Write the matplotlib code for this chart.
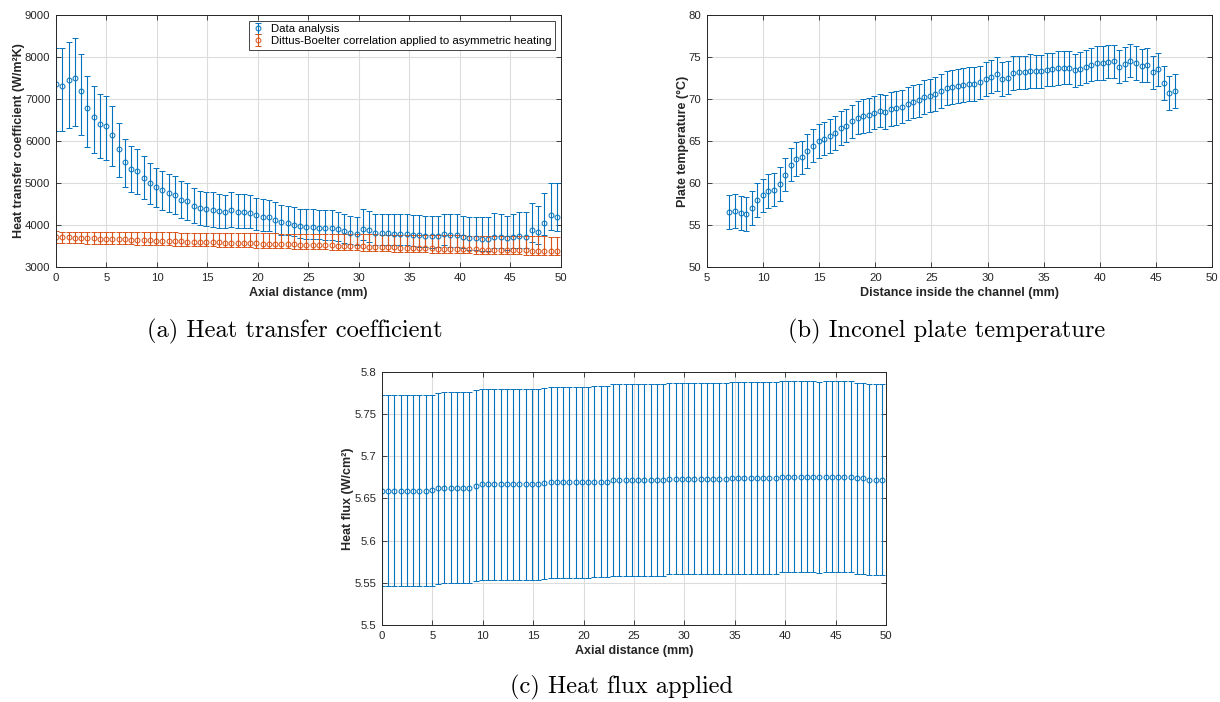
import numpy as np
import matplotlib
matplotlib.use("Agg")
import matplotlib.pyplot as plt
from matplotlib.ticker import FormatStrFormatter

plt.rcParams['font.family'] = ['Liberation Sans', 'DejaVu Sans']

BLUE = '#0072BD'
ORANGE = '#D95319'
AXC = '#262626'

# --- (a) heat transfer coefficient, 81 stations 0 .. 49.6 mm
axial_a = np.linspace(0.0, 49.6, 81)
htc = [7352, 7320, 7447, 7510, 7201, 6781, 6575, 6401, 6361, 6147,
       5815, 5490, 5339, 5276, 5125, 4990, 4895, 4824, 4769, 4705,
       4602, 4563, 4460, 4404, 4380, 4365, 4325, 4301, 4349, 4309,
       4309, 4285, 4230, 4198, 4182, 4127, 4063, 4048, 4008, 3976,
       3952, 3945, 3937, 3921, 3921, 3897, 3850, 3818, 3794, 3913,
       3881, 3810, 3802, 3810, 3794, 3794, 3794, 3770, 3754, 3746,
       3738, 3746, 3794, 3762, 3754, 3722, 3690, 3683, 3667, 3667,
       3722, 3722, 3683, 3722, 3738, 3722, 3881, 3826, 4055, 4238,
       4198]
htc_err_up = [871, 888, 919, 951, 880, 777, 745, 721, 721, 674,
              610, 548, 532, 539, 507, 484, 452, 452, 451, 452,
              436, 427, 420, 412, 404, 412, 412, 412, 428, 428,
              428, 435, 420, 427, 418, 428, 407, 402, 412, 397,
              421, 428, 420, 436, 436, 420, 404, 404, 404, 468,
              460, 444, 452, 444, 460, 460, 476, 476, 492, 476,
              484, 476, 476, 492, 500, 492, 492, 500, 515, 515,
              572, 548, 540, 548, 580, 595, 635, 626, 715, 770,
              794]
htc_err_dn = [1125, 1093, 1141, 1157, 1061, 927, 872, 816, 808, 752,
              666, 595, 555, 531, 515, 483, 475, 459, 460, 444,
              444, 436, 420, 412, 404, 405, 388, 380, 404, 372,
              372, 360, 341, 341, 330, 320, 300, 290, 278, 280,
              282, 280, 278, 280, 282, 278, 280, 280, 282, 280,
              278, 280, 280, 282, 280, 278, 280, 280, 282, 280,
              280, 278, 280, 282, 280, 280, 278, 280, 282, 280,
              280, 278, 280, 280, 282, 280, 277, 285, 300, 357,
              341]
db = [3712, 3707, 3702, 3697, 3692, 3687, 3682, 3676, 3671, 3666,
      3661, 3656, 3651, 3646, 3641, 3636, 3630, 3625, 3620, 3615,
      3610, 3606, 3602, 3598, 3594, 3590, 3586, 3582, 3578, 3574,
      3570, 3566, 3562, 3558, 3554, 3550, 3546, 3542, 3538, 3534,
      3530, 3526, 3521, 3517, 3512, 3508, 3503, 3499, 3494, 3490,
      3485, 3481, 3476, 3472, 3467, 3463, 3458, 3454, 3449, 3445,
      3440, 3437, 3434, 3431, 3428, 3424, 3421, 3418, 3415, 3412,
      3409, 3406, 3403, 3400, 3397, 3393, 3390, 3387, 3384, 3381,
      3378]
db_err_up = [133, 137, 141, 145, 148, 152, 156, 160, 164, 168,
             172, 175, 179, 183, 187, 191, 195, 198, 202, 206,
             210, 212, 215, 217, 220, 222, 225, 227, 230, 232,
             235, 237, 240, 242, 245, 247, 250, 252, 255, 257,
             260, 263, 266, 269, 272, 275, 278, 281, 284, 287,
             290, 293, 296, 299, 302, 305, 308, 311, 314, 317,
             320, 321, 322, 324, 325, 326, 327, 328, 330, 331,
             332, 333, 335, 336, 337, 338, 339, 341, 342, 343,
             344]
db_err_dn = [140, 138, 136, 134, 132, 130, 128, 126, 124, 122,
             120, 118, 116, 114, 112, 110, 109, 108, 107, 106,
             105, 104, 104, 103, 103, 102, 102, 102, 101, 101,
             101, 100, 100, 100, 100, 100, 100, 100, 100, 100,
             100, 100, 100, 100, 100, 100, 100, 100, 100, 100,
             100, 100, 100, 100, 100, 100, 100, 100, 100, 100,
             100, 100, 100, 100, 100, 100, 100, 100, 100, 100,
             100, 100, 100, 100, 100, 100, 100, 100, 100, 100,
             100]

# --- (b) plate temperature, 81 stations 7 .. 46.7 mm
dist_b = np.linspace(7.0, 46.7, 81)
temp = [56.55, 56.63, 56.39, 56.27, 57.02, 57.97, 58.53, 59.05, 59.21, 59.88,
        60.99, 62.18, 62.82, 63.05, 63.77, 64.44, 64.96, 65.28, 65.60, 65.95,
        66.51, 66.83, 67.34, 67.78, 67.94, 68.10, 68.37, 68.61, 68.45, 68.81,
        68.89, 69.09, 69.44, 69.68, 69.84, 70.24, 70.40, 70.60, 70.95, 71.27,
        71.43, 71.55, 71.67, 71.79, 71.79, 71.98, 72.38, 72.66, 72.98, 72.34,
        72.54, 73.06, 73.17, 73.17, 73.33, 73.29, 73.29, 73.49, 73.53, 73.69,
        73.73, 73.73, 73.41, 73.61, 73.85, 74.09, 74.29, 74.25, 74.44, 74.48,
        73.85, 74.13, 74.56, 74.29, 73.97, 74.05, 73.17, 73.53, 71.87, 70.72,
        70.96]
temp_err = 2.0

# --- (c) heat flux, same stations as (a)
axial_c = np.linspace(0.0, 49.6, 81)
flux = [5.659, 5.659, 5.659, 5.659, 5.659, 5.659, 5.659, 5.659, 5.660, 5.662,
        5.663, 5.663, 5.663, 5.663, 5.663, 5.665, 5.667, 5.667, 5.667, 5.667,
        5.667, 5.667, 5.667, 5.667, 5.667, 5.667, 5.668, 5.669, 5.669, 5.669,
        5.669, 5.669, 5.669, 5.669, 5.670, 5.670, 5.670, 5.672, 5.672, 5.672,
        5.672, 5.672, 5.672, 5.672, 5.672, 5.672, 5.6735, 5.6735, 5.6735, 5.6735,
        5.6735, 5.6735, 5.6735, 5.6735, 5.6735, 5.6735, 5.6745, 5.6745, 5.6745, 5.6745,
        5.6745, 5.6745, 5.6745, 5.6745, 5.676, 5.676, 5.676, 5.676, 5.676, 5.676,
        5.675, 5.676, 5.676, 5.676, 5.676, 5.676, 5.674, 5.674, 5.6725, 5.6725,
        5.6725]
flux_rel_err = 0.02

LAB = dict(fontsize=9, fontweight='bold', color=AXC)


def style(ax):
    ax.tick_params(direction='in', top=True, right=True, length=3.5, width=0.6,
                   labelsize=8.2, colors=AXC, pad=4)
    ax.grid(True, color='#dcdcdc', linewidth=0.8)
    ax.set_axisbelow(True)
    for sp in ax.spines.values():
        sp.set_color(AXC)
        sp.set_linewidth(0.7)


eb = dict(fmt='o', ms=3.5, mfc='none', mew=0.7, elinewidth=0.8,
          capsize=2.2, capthick=0.8)

fig = plt.figure(figsize=(12.2, 7.02), dpi=100)

# (a)
ax1 = fig.add_axes([0.0459, 0.6197, 0.4139, 0.359])
ax1.errorbar(axial_a, htc, yerr=[htc_err_dn, htc_err_up], color=BLUE,
             label='Data analysis', **eb)
ax1.errorbar(axial_a, db, yerr=[db_err_dn, db_err_up], color=ORANGE,
             label='Dittus-Boelter correlation applied to asymmetric heating', **eb)
ax1.set_xlim(0, 50)
ax1.set_ylim(3000, 9000)
ax1.set_xticks(np.arange(0, 51, 5))
ax1.set_yticks(np.arange(3000, 9001, 1000))
ax1.set_xlabel('Axial distance (mm)', labelpad=3, **LAB)
ax1.set_ylabel('Heat transfer coefficient (W/m²K)', labelpad=0, **LAB)
style(ax1)
leg = ax1.legend(loc='upper right', bbox_to_anchor=(0.988, 0.976), borderaxespad=0,
                 fontsize=8.2, fancybox=False, framealpha=1, edgecolor=AXC,
                 handlelength=1.0, handletextpad=0.6, borderpad=0.3, labelspacing=0.15)
leg.get_frame().set_linewidth(0.6)

# (b)
ax2 = fig.add_axes([0.5795, 0.6197, 0.4139, 0.359])
ax2.errorbar(dist_b, temp, yerr=temp_err, color=BLUE, **eb)
ax2.set_xlim(5, 50)
ax2.set_ylim(50, 80)
ax2.set_xticks(np.arange(5, 51, 5))
ax2.set_yticks(np.arange(50, 81, 5))
ax2.set_xlabel('Distance inside the channel (mm)', labelpad=3, **LAB)
ax2.set_ylabel('Plate temperature (°C)', labelpad=0, **LAB)
style(ax2)

# (c)
ax3 = fig.add_axes([0.3131, 0.1097, 0.4131, 0.3604])
ax3.errorbar(axial_c, flux, yerr=np.array(flux) * flux_rel_err, color=BLUE, **eb)
ax3.set_xlim(0, 50)
ax3.set_ylim(5.5, 5.8)
ax3.set_xticks(np.arange(0, 51, 5))
ax3.set_yticks(np.arange(5.5, 5.8001, 0.05))
ax3.yaxis.set_major_formatter(FormatStrFormatter('%g'))
ax3.set_xlabel('Axial distance (mm)', labelpad=3, **LAB)
ax3.set_ylabel('Heat flux (W/cm²)', labelpad=0, **LAB)
style(ax3)

# captions
cap = dict(fontsize=17.6, family='cmr10', ha='center', va='center', color='black')
fig.text(295 / 1220, 1 - 331 / 702, '(a) Heat transfer coefficient', **cap)
fig.text(947 / 1220, 1 - 331 / 702, '(b) Inconel plate temperature', **cap)
fig.text(622 / 1220, 1 - 687 / 702, '(c) Heat flux applied', **cap)

fig.savefig('out.png', dpi=100)
